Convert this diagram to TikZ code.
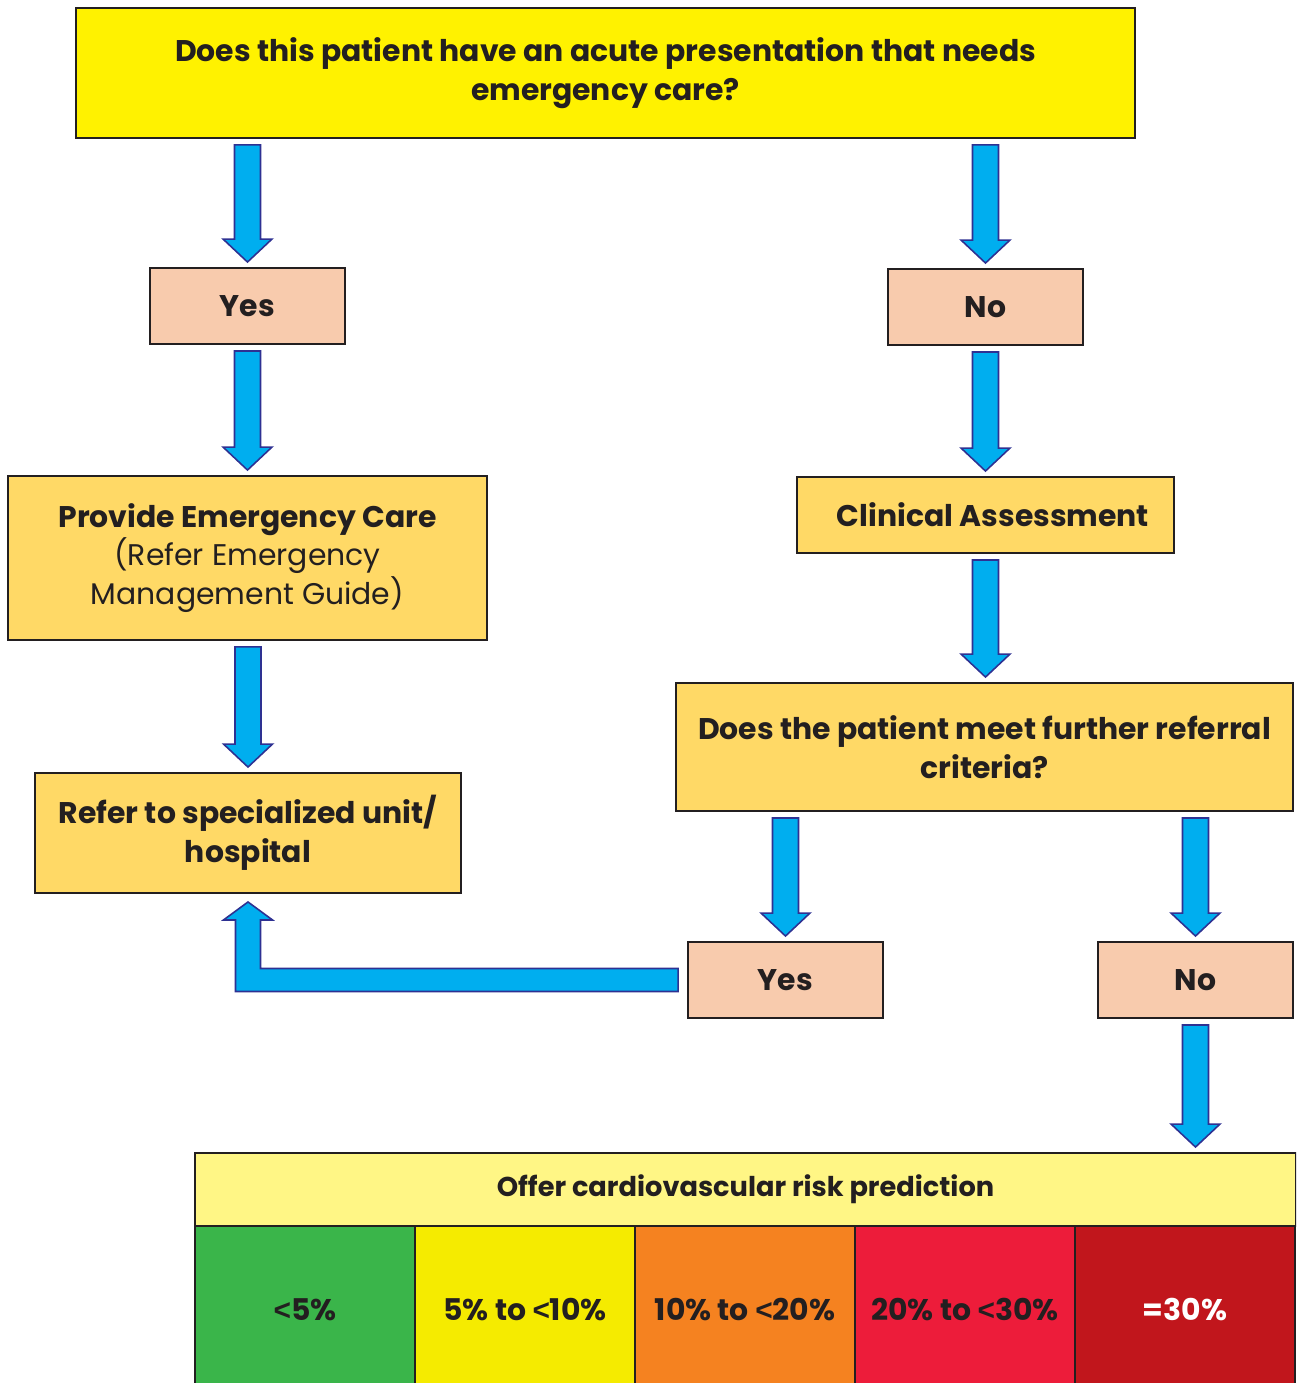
\documentclass[tikz,border=0pt]{standalone}
\usepackage{fontspec}
\setmainfont{Poppins}
\newfontfamily\ltfont{Liberation Sans}
\usetikzlibrary{calc}

\definecolor{topyellow}{HTML}{FFF200}
\definecolor{peach}{HTML}{F8CBAD}
\definecolor{gold}{HTML}{FFD966}
\definecolor{paleyellow}{HTML}{FFF685}
\definecolor{arrowfill}{HTML}{00AEEF}
\definecolor{arrowline}{HTML}{2E3192}
\definecolor{ink}{HTML}{231F20}
\definecolor{riskA}{HTML}{3AB54A}
\definecolor{riskB}{HTML}{F5EB00}
\definecolor{riskC}{HTML}{F58220}
\definecolor{riskD}{HTML}{ED1C3A}
\definecolor{riskE}{HTML}{C1161C}

\newcommand{\lessthan}{{\ltfont\bfseries<}}

% vertical block arrow from #1 down to #2
\newcommand{\blkarrow}[2]{%
  \path ($#1+(0,6)$) coordinate (ba) ($#2+(0,-5)$) coordinate (bb);
  \draw[blk] ($(ba)+(-13,0)$) -- ($(ba)+(13,0)$) -- ($(bb)+(13,-23)$)
    -- ($(bb)+(24.5,-23)$) -- (bb) -- ($(bb)+(-24.5,-23)$)
    -- ($(bb)+(-13,-23)$) -- cycle;}

\begin{document}
\begin{tikzpicture}[x=0.02cm,y=-0.02cm,
    font=\fontsize{17}{22}\selectfont\bfseries, text=ink,
    box/.style={draw=ink, line width=1.1pt, rectangle, align=center, inner sep=0pt},
    answer/.style={box, fill=peach, minimum width=3.9cm, minimum height=1.52cm},
    task/.style={box, fill=gold},
    cell/.style={draw=ink, line width=0.9pt, minimum width=4.4cm, minimum height=3.4cm, inner sep=0pt},
    blk/.style={fill=arrowfill, draw=arrowline, line width=0.9pt, line join=miter}]

  \useasboundingbox (0,0) rectangle (1296,1383);
  \clip (0,0) rectangle (1296,1383);

  \node[box, fill=topyellow, minimum width=21.18cm, minimum height=2.6cm] (q1) at (605.5,73)
    {Does this patient have an acute presentation that needs\\emergency care?};

  \node[answer] (yes1) at (247.5,306) {Yes};
  \node[answer] (no1) at (985.5,307) {No};

  \node[task, minimum width=9.58cm, minimum height=3.28cm] (care) at (247.5,558)
    {Provide Emergency Care\\{\mdseries (Refer Emergency}\\{\mdseries Management Guide)}};
  \node[task, minimum width=7.54cm, minimum height=1.52cm] (assess) at (985.5,515)
    {\hspace*{0.3cm}Clinical Assessment};

  \node[task, minimum width=8.52cm, minimum height=2.4cm] (refer) at (248,833)
    {Refer to specialized unit/\\hospital};
  \node[task, minimum width=12.34cm, minimum height=2.56cm] (q2) at (984.5,747)
    {Does the patient meet further referral\\criteria?};

  \node[answer] (yes2) at (785.5,980) {Yes};
  \node[answer] (no2) at (1195.5,980) {No};

  \node[box, fill=paleyellow, minimum width=22.02cm, minimum height=1.46cm,
    font=\fontsize{15.5}{20}\selectfont\bfseries] (risk) at (745.5,1189.5)
    {\raisebox{-0.1cm}{Offer cardiovascular risk prediction}};
  \foreach \i/\xc/\col/\lbl in {1/305/riskA/{\lessthan5\%}, 2/525/riskB/{5\% to \lessthan10\%},
      3/745/riskC/{10\% to \lessthan20\%}, 4/965/riskD/{20\% to \lessthan30\%}, 5/1185/riskE/{\textcolor{white}{=30\%}}}{
    \node[cell, fill=\col] (r\i) at (\xc,1311) {\raisebox{0.05cm}{\lbl}};
  }

  \blkarrow{(yes1.north |- q1.south)}{(yes1.north)}
  \blkarrow{(no1.north |- q1.south)}{(no1.north)}
  \blkarrow{(yes1.south)}{(care.north -| yes1.south)}
  \blkarrow{(no1.south)}{(assess.north -| no1.south)}
  \blkarrow{(refer.north |- care.south)}{(refer.north)}
  \blkarrow{(assess.south)}{(q2.north -| assess.south)}
  \blkarrow{(yes2.north |- q2.south)}{(yes2.north)}
  \blkarrow{(no2.north |- q2.south)}{(no2.north)}
  \blkarrow{(no2.south)}{(risk.north -| no2.south)}

  % elbow arrow back to the referral box
  \coordinate (elb) at (refer.south |- yes2.west);
  \draw[blk] ($(yes2.west)+(-9,-11.5)$) -- ($(yes2.west)+(-9,11.5)$)
    -- ($(elb)+(-12.5,11.5)$) -- ($(refer.south)+(-12.5,26)$)
    -- ($(refer.south)+(-24.5,26)$) -- ($(refer.south)+(0,8)$)
    -- ($(refer.south)+(24.5,26)$) -- ($(refer.south)+(12.5,26)$)
    -- ($(elb)+(12.5,-11.5)$) -- cycle;
\end{tikzpicture}
\end{document}
